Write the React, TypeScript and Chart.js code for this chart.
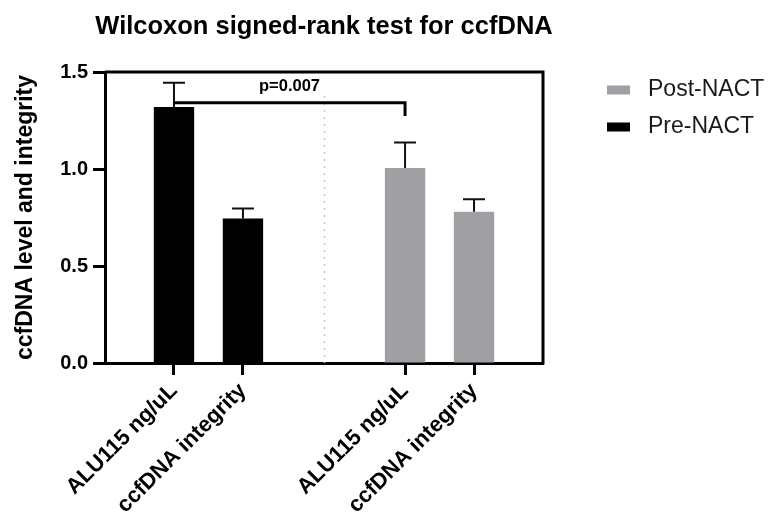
import React, { useEffect, useRef } from "react";
import { Chart, registerables } from "chart.js";

Chart.register(...registerables);

// ---------- data ----------
const chartTitle = "Wilcoxon signed-rank test for ccfDNA";
const yAxisTitle = "ccfDNA level and integrity";
const categories = ["ALU115 ng/uL", "ccfDNA integrity", "ALU115 ng/uL", "ccfDNA integrity"];
const seriesNames = ["Post-NACT", "Pre-NACT"];
const preNACTMean = [1.32, 0.745];
const preNACTUpper = [1.445, 0.797];
const postNACTMean = [1.005, 0.78];
const postNACTUpper = [1.136, 0.844];
const yTickValues = [0, 0.5, 1.0, 1.5];
const pValueText = "p=0.007";
const bracketLevel = 1.342;
const bracketDropLevel = 1.273;
const dividerTopLevel = 1.376;

// ---------- layout helpers ----------
const GROUP_GAP = 1.35;
const slotX = (i: number) => 1 + i + (i >= 2 ? GROUP_GAP : 0);
const X_MAX = slotX(categories.length - 1) + 1;
const FONT = "'Liberation Sans', Arial, Helvetica, sans-serif";
const GRAY = "rgb(160,160,164)";
const BLACK = "#000000";

const overlayPlugin = {
  id: "overlay",
  beforeDatasetsDraw(chart: any) {
    const { ctx, chartArea, scales } = chart;
    const x = scales.x;
    const y = scales.y;
    const midVal = (slotX(1) + slotX(2)) / 2;
    const px = Math.round(x.getPixelForValue(midVal)) + 0.5;
    ctx.save();
    ctx.strokeStyle = "#c8c8c8";
    ctx.lineWidth = 1.5;
    ctx.setLineDash([2, 5]);
    ctx.beginPath();
    ctx.moveTo(px, y.getPixelForValue(dividerTopLevel));
    ctx.lineTo(px, chartArea.bottom);
    ctx.stroke();
    ctx.restore();
  },
  afterDatasetsDraw(chart: any) {
    const { ctx, chartArea, scales } = chart;
    const x = scales.x;
    const y = scales.y;
    ctx.save();
    ctx.strokeStyle = BLACK;
    ctx.lineWidth = 3;
    ctx.beginPath();
    ctx.moveTo(chartArea.left, chartArea.top);
    ctx.lineTo(chartArea.right, chartArea.top);
    ctx.lineTo(chartArea.right, chartArea.bottom + 1.5);
    ctx.stroke();

    const errs = [
      { means: preNACTMean, uppers: preNACTUpper, offset: 0 },
      { means: postNACTMean, uppers: postNACTUpper, offset: 2 },
    ];
    ctx.lineWidth = 2;
    ctx.strokeStyle = "#111";
    errs.forEach(({ means, uppers, offset }) => {
      means.forEach((m, i) => {
        const cx = x.getPixelForValue(slotX(i + offset));
        const y0 = y.getPixelForValue(m);
        const y1 = y.getPixelForValue(uppers[i]);
        ctx.beginPath();
        ctx.moveTo(cx, y0);
        ctx.lineTo(cx, y1);
        ctx.moveTo(cx - 11, y1);
        ctx.lineTo(cx + 11, y1);
        ctx.stroke();
      });
    });

    const bx0 = x.getPixelForValue(slotX(0));
    const bx1 = x.getPixelForValue(slotX(2));
    const by = y.getPixelForValue(bracketLevel);
    const byd = y.getPixelForValue(bracketDropLevel);
    ctx.lineWidth = 3;
    ctx.strokeStyle = BLACK;
    ctx.beginPath();
    ctx.moveTo(bx0, by);
    ctx.lineTo(bx1, by);
    ctx.lineTo(bx1, byd);
    ctx.stroke();
    ctx.fillStyle = BLACK;
    ctx.font = `bold 16.5px ${FONT}`;
    ctx.textAlign = "center";
    ctx.textBaseline = "bottom";
    ctx.fillText(pValueText, (bx0 + bx1) / 2, by - 8);

    ctx.font = `bold 25.5px ${FONT}`;
    ctx.textBaseline = "middle";
    ctx.fillText(chartTitle, (chartArea.left + chartArea.right) / 2, 27);

    const legendColors = [GRAY, BLACK];
    ctx.font = `23px ${FONT}`;
    ctx.textAlign = "left";
    seriesNames.forEach((name, i) => {
      const cy = 90 + i * 37;
      ctx.fillStyle = legendColors[i];
      ctx.fillRect(607, cy - 4.5, 23, 9);
      ctx.fillStyle = "#1a1a1a";
      ctx.fillText(name, 648, cy);
    });
    ctx.restore();
  },
};

export default function App() {
  const ref = useRef<HTMLCanvasElement | null>(null);
  useEffect(() => {
    if (!ref.current) return;
    const chart = new Chart(ref.current, {
      type: "bar",
      data: {
        datasets: [
          {
            label: seriesNames[0],
            data: postNACTMean.map((v, i) => ({ x: slotX(i + 2), y: v })),
            backgroundColor: GRAY,
            borderWidth: 0,
            grouped: false,
            barPercentage: 0.585,
            categoryPercentage: 1,
          } as any,
          {
            label: seriesNames[1],
            data: preNACTMean.map((v, i) => ({ x: slotX(i), y: v })),
            backgroundColor: BLACK,
            borderWidth: 0,
            grouped: false,
            barPercentage: 0.585,
            categoryPercentage: 1,
          } as any,
        ],
      },
      options: {
        animation: false,
        responsive: true,
        maintainAspectRatio: false,
        layout: { padding: { left: 0, top: 72, right: 238, bottom: 0 } },
        plugins: {
          legend: { display: false },
          title: { display: false },
          tooltip: { enabled: false },
        },
        scales: {
          x: {
            type: "linear",
            offset: false,
            min: 0,
            max: X_MAX,
            afterBuildTicks: (axis: any) => {
              axis.ticks = categories.map((_, i) => ({ value: slotX(i) }));
            },
            afterFit: (axis: any) => {
              axis.height = 167;
            },
            grid: {
              offset: false,
              drawOnChartArea: false,
              drawTicks: true,
              tickLength: 12,
              tickWidth: 3,
              color: BLACK,
            },
            border: { display: true, width: 3, color: BLACK },
            ticks: {
              autoSkip: false,
              maxRotation: 45,
              minRotation: 45,
              padding: 3,
              color: BLACK,
              font: { family: FONT, size: 22, weight: "bold" },
              callback: (_v: any, i: number) => categories[i],
            },
          },
          y: {
            min: 0,
            max: 1.5,
            afterBuildTicks: (axis: any) => {
              axis.ticks = yTickValues.map((v) => ({ value: v }));
            },
            afterFit: (axis: any) => {
              axis.width = 105;
            },
            grid: {
              drawOnChartArea: false,
              drawTicks: true,
              tickLength: 12,
              tickWidth: 3,
              color: BLACK,
            },
            border: { display: true, width: 3, color: BLACK },
            ticks: {
              padding: 5,
              color: BLACK,
              font: { family: FONT, size: 20, weight: "bold" },
              callback: (v: any) => Number(v).toFixed(1),
            },
            title: {
              display: true,
              text: yAxisTitle,
              color: BLACK,
              padding: { top: 12, bottom: 0 },
              font: { family: FONT, size: 23, weight: "bold" },
            },
          },
        },
      } as any,
      plugins: [overlayPlugin],
    });
    return () => chart.destroy();
  }, []);

  return (
    <div style={{ position: "fixed", left: 0, top: 0, width: 781, height: 530, background: "#fff" }}>
      <canvas ref={ref} />
    </div>
  );
}
